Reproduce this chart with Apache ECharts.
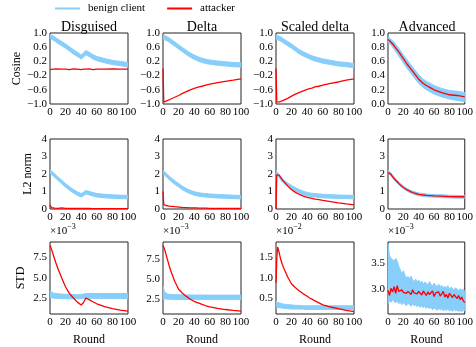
<!DOCTYPE html>
<html>
<head>
<meta charset="utf-8">
<script src="https://cdn.jsdelivr.net/npm/echarts@6/dist/echarts.min.js"></script>
<style>
  html, body { margin: 0; padding: 0; background: #fff; }
  #chart { width: 476px; height: 347px; }
</style>
</head>
<body>
<div id="chart"></div>
<script>
// 通信轮次
const rounds = [0, 1, 2, 4, 6, 8, 10, 15, 20, 25, 30, 35, 40, 43, 46, 50, 55, 60, 70, 80, 90, 100];
const roundsDense = [0, 2, 4, 6, 8, 10, 12, 14, 16, 18, 20, 22, 24, 26, 28, 30, 32, 34, 36, 38, 40, 42, 44, 46, 48, 50,
  52, 54, 56, 58, 60, 62, 64, 66, 68, 70, 72, 74, 76, 78, 80, 82, 84, 86, 88, 90, 92, 94, 96, 98, 100];

const columnTitles = ['Disguised', 'Delta', 'Scaled delta', 'Advanced'];
const rowNames = ['Cosine', 'L2 norm', 'STD'];
const stdExponents = ['−3', '−3', '−2', '−3'];

// Cosine
const cosDisgLo = [0.84, 0.83, 0.82, 0.80, 0.77, 0.74, 0.71, 0.64, 0.57, 0.49, 0.41, 0.34, 0.27, 0.32, 0.39, 0.34, 0.27, 0.22, 0.16, 0.11, 0.08, 0.05];
const cosDisgHi = [0.96, 0.95, 0.94, 0.92, 0.89, 0.86, 0.83, 0.76, 0.69, 0.61, 0.53, 0.46, 0.38, 0.44, 0.51, 0.46, 0.39, 0.34, 0.28, 0.23, 0.20, 0.17];
const cosDisgAtk = [-0.03, -0.02, -0.03, -0.02, -0.03, -0.01, -0.03, -0.02, -0.02, -0.03, -0.01, -0.02, -0.03, -0.02, -0.02, -0.01, -0.03, -0.02, -0.02, -0.01, -0.02, -0.02];

const cosDeltaLo = [0.82, 0.82, 0.81, 0.79, 0.77, 0.74, 0.71, 0.63, 0.55, 0.47, 0.39, 0.32, 0.26, 0.23, 0.20, 0.17, 0.14, 0.12, 0.09, 0.07, 0.05, 0.04];
const cosDeltaHi = [0.94, 0.94, 0.93, 0.91, 0.89, 0.86, 0.83, 0.75, 0.67, 0.59, 0.51, 0.44, 0.38, 0.35, 0.32, 0.29, 0.26, 0.24, 0.21, 0.19, 0.17, 0.16];
const cosDeltaAtk = [0.0, -0.95, -0.94, -0.92, -0.90, -0.88, -0.86, -0.81, -0.76, -0.70, -0.65, -0.60, -0.56, -0.54, -0.52, -0.50, -0.47, -0.44, -0.40, -0.36, -0.33, -0.29];

const cosScaledLo = [0.83, 0.82, 0.81, 0.79, 0.77, 0.74, 0.71, 0.64, 0.57, 0.49, 0.41, 0.35, 0.30, 0.27, 0.24, 0.21, 0.18, 0.15, 0.11, 0.07, 0.05, 0.02];
const cosScaledHi = [0.95, 0.94, 0.93, 0.91, 0.89, 0.86, 0.83, 0.76, 0.69, 0.61, 0.53, 0.47, 0.42, 0.39, 0.36, 0.33, 0.30, 0.27, 0.23, 0.19, 0.17, 0.14];
const cosScaledAtk = [0.0, -0.95, -0.95, -0.94, -0.93, -0.91, -0.89, -0.84, -0.78, -0.72, -0.67, -0.63, -0.59, -0.57, -0.55, -0.52, -0.50, -0.47, -0.42, -0.38, -0.33, -0.29];

const cosAdvLo = [0.86, 0.86, 0.85, 0.83, 0.80, 0.77, 0.74, 0.66, 0.58, 0.50, 0.43, 0.36, 0.29, 0.26, 0.23, 0.20, 0.17, 0.14, 0.10, 0.07, 0.05, 0.03];
const cosAdvHi = [0.95, 0.94, 0.93, 0.91, 0.89, 0.87, 0.84, 0.77, 0.69, 0.62, 0.55, 0.48, 0.41, 0.38, 0.35, 0.32, 0.29, 0.26, 0.22, 0.19, 0.18, 0.16];
const cosAdvAtk = [0.91, 0.90, 0.89, 0.87, 0.85, 0.82, 0.79, 0.72, 0.64, 0.56, 0.49, 0.42, 0.35, 0.32, 0.29, 0.26, 0.23, 0.20, 0.16, 0.13, 0.12, 0.10];

// L2 norm
const l2DisgLo = [2.05, 2.01, 1.97, 1.89, 1.81, 1.73, 1.65, 1.45, 1.25, 1.07, 0.92, 0.78, 0.68, 0.76, 0.86, 0.81, 0.74, 0.69, 0.64, 0.61, 0.59, 0.58];
const l2DisgHi = [2.25, 2.21, 2.17, 2.09, 2.01, 1.93, 1.85, 1.65, 1.45, 1.27, 1.12, 0.98, 0.88, 0.96, 1.06, 1.01, 0.94, 0.89, 0.84, 0.81, 0.79, 0.78];
const l2DisgAtk = [0.22, 0.12, 0.08, 0.06, 0.05, 0.05, 0.04, 0.07, 0.04, 0.03, 0.03, 0.03, 0.03, 0.03, 0.03, 0.03, 0.02, 0.02, 0.02, 0.02, 0.02, 0.02];

const l2DeltaLo = [2.02, 1.98, 1.93, 1.85, 1.76, 1.68, 1.60, 1.42, 1.26, 1.10, 0.97, 0.87, 0.79, 0.76, 0.73, 0.70, 0.68, 0.66, 0.63, 0.61, 0.59, 0.58];
const l2DeltaHi = [2.22, 2.18, 2.13, 2.05, 1.96, 1.88, 1.80, 1.62, 1.46, 1.30, 1.17, 1.07, 0.99, 0.96, 0.93, 0.90, 0.88, 0.86, 0.83, 0.81, 0.79, 0.78];
const l2DeltaAtk = [1.0, 0.25, 0.22, 0.20, 0.18, 0.17, 0.16, 0.13, 0.11, 0.09, 0.08, 0.07, 0.06, 0.06, 0.05, 0.05, 0.05, 0.04, 0.04, 0.04, 0.03, 0.03];

const l2ScaledLo = [2.02, 1.97, 1.90, 1.78, 1.66, 1.55, 1.46, 1.28, 1.15, 1.02, 0.91, 0.82, 0.75, 0.72, 0.70, 0.68, 0.66, 0.64, 0.62, 0.60, 0.59, 0.58];
const l2ScaledHi = [2.22, 2.17, 2.10, 1.98, 1.86, 1.75, 1.66, 1.48, 1.35, 1.22, 1.11, 1.02, 0.95, 0.92, 0.90, 0.88, 0.86, 0.84, 0.82, 0.80, 0.79, 0.78];
const l2ScaledAtk = [0.0, 1.95, 2.05, 1.93, 1.80, 1.68, 1.57, 1.32, 1.10, 0.95, 0.83, 0.74, 0.67, 0.64, 0.61, 0.57, 0.53, 0.49, 0.42, 0.35, 0.29, 0.24];

const l2AdvLo = [2.07, 2.04, 1.99, 1.89, 1.78, 1.67, 1.57, 1.35, 1.16, 1.01, 0.90, 0.82, 0.76, 0.74, 0.72, 0.70, 0.68, 0.67, 0.65, 0.63, 0.62, 0.61];
const l2AdvHi = [2.23, 2.20, 2.15, 2.05, 1.94, 1.83, 1.73, 1.51, 1.32, 1.17, 1.06, 0.98, 0.92, 0.90, 0.88, 0.86, 0.84, 0.83, 0.81, 0.79, 0.78, 0.77];
const l2AdvAtk = [2.08, 2.12, 2.10, 1.98, 1.84, 1.74, 1.64, 1.42, 1.23, 1.09, 0.98, 0.90, 0.84, 0.82, 0.80, 0.78, 0.77, 0.75, 0.73, 0.71, 0.70, 0.70];

// STD（已按 ×10^k 缩放）
const stdDisgLo = [2.65, 2.60, 2.58, 2.55, 2.52, 2.50, 2.50, 2.48, 2.47, 2.46, 2.46, 2.46, 2.46, 2.50, 2.52, 2.52, 2.51, 2.51, 2.50, 2.50, 2.50, 2.50];
const stdDisgHi = [3.45, 3.35, 3.28, 3.18, 3.12, 3.10, 3.08, 3.04, 3.00, 2.98, 2.97, 2.96, 2.96, 3.05, 3.12, 3.12, 3.10, 3.10, 3.10, 3.10, 3.10, 3.10];
const stdDisgAtk = [9.0, 8.8, 8.5, 7.9, 7.3, 6.7, 6.2, 5.0, 3.9, 3.1, 2.55, 2.05, 1.7, 2.0, 2.55, 2.35, 2.1, 1.85, 1.5, 1.25, 1.08, 0.95];

const stdDeltaLo = [2.40, 2.45, 2.48, 2.48, 2.46, 2.45, 2.44, 2.42, 2.42, 2.41, 2.41, 2.40, 2.40, 2.40, 2.40, 2.40, 2.40, 2.40, 2.40, 2.40, 2.40, 2.40];
const stdDeltaHi = [4.10, 3.70, 3.40, 3.20, 3.10, 3.06, 3.04, 3.02, 3.00, 3.00, 2.98, 2.98, 2.97, 2.97, 2.97, 2.97, 2.96, 2.96, 2.96, 2.96, 2.96, 2.96];
const stdDeltaAtk = [9.2, 9.0, 8.7, 8.0, 7.3, 6.6, 6.0, 4.7, 3.7, 3.2, 2.8, 2.45, 2.17, 2.05, 1.95, 1.8, 1.63, 1.5, 1.3, 1.16, 1.05, 0.95];

const stdScaledLo = [0.30, 0.29, 0.28, 0.27, 0.27, 0.26, 0.26, 0.25, 0.24, 0.24, 0.24, 0.24, 0.23, 0.23, 0.23, 0.23, 0.23, 0.23, 0.23, 0.23, 0.23, 0.23];
const stdScaledHi = [0.43, 0.41, 0.40, 0.39, 0.38, 0.37, 0.36, 0.35, 0.34, 0.33, 0.33, 0.32, 0.32, 0.32, 0.32, 0.32, 0.32, 0.32, 0.32, 0.32, 0.32, 0.32];
const stdScaledAtk = [0.88, 1.45, 1.75, 1.62, 1.45, 1.33, 1.23, 1.02, 0.85, 0.76, 0.68, 0.61, 0.55, 0.51, 0.48, 0.44, 0.39, 0.34, 0.29, 0.25, 0.21, 0.18];

const stdAdvLo = [2.72, 2.78, 2.75, 2.80, 2.76, 2.74, 2.78, 2.72, 2.75, 2.70, 2.74, 2.71, 2.68, 2.73, 2.70, 2.67, 2.72, 2.68, 2.70, 2.66,
  2.69, 2.65, 2.68, 2.64, 2.67, 2.63, 2.66, 2.62, 2.65, 2.60, 2.64, 2.62, 2.59, 2.63, 2.60, 2.62, 2.58, 2.61, 2.59, 2.62,
  2.58, 2.60, 2.57, 2.61, 2.58, 2.60, 2.57, 2.59, 2.56, 2.60, 2.58];
const stdAdvHi = [3.88, 3.65, 3.60, 3.58, 3.55, 3.60, 3.55, 3.45, 3.38, 3.30, 3.36, 3.28, 3.22, 3.25, 3.20, 3.26, 3.18, 3.15, 3.20, 3.14,
  3.18, 3.12, 3.16, 3.10, 3.14, 3.12, 3.08, 3.15, 3.10, 3.06, 3.12, 3.08, 3.05, 3.10, 3.04, 3.08, 3.02, 3.06, 3.03, 3.07,
  3.00, 3.04, 3.02, 2.98, 3.03, 3.00, 2.97, 3.01, 2.98, 3.00, 2.96];
const stdAdvAtk = [2.98, 2.88, 3.02, 2.95, 3.05, 2.92, 3.07, 2.96, 2.93, 2.99, 2.94, 2.97, 2.92, 2.96, 2.95, 2.90, 2.99, 2.93, 2.95, 2.91,
  2.96, 2.94, 2.89, 2.97, 2.92, 2.88, 2.95, 2.90, 2.93, 2.97, 2.86, 2.93, 2.90, 2.95, 2.87, 2.91, 2.96, 2.85, 2.90, 2.83,
  2.92, 2.88, 2.84, 2.90, 2.86, 2.82, 2.88, 2.80, 2.85, 2.78, 2.74];

const BLUE = '#87CEFA';
const RED = '#ff0000';
const FONT = 'Liberation Serif';

// 布局（像素）
const colLeft = [50, 163, 276, 388];
const colWidth = 78;
const rowTop = [33, 139, 242];
const rowHeight = [71, 70, 72];

// 每个子图：[行, 列, x, 下界, 上界, 攻击者, y轴设置]
const panels = [
  [0, 0, rounds, cosDisgLo, cosDisgHi, cosDisgAtk, { min: -1, max: 1, interval: 0.4 }],
  [0, 1, rounds, cosDeltaLo, cosDeltaHi, cosDeltaAtk, { min: -1, max: 1, interval: 0.4 }],
  [0, 2, rounds, cosScaledLo, cosScaledHi, cosScaledAtk, { min: -1, max: 1, interval: 0.4 }],
  [0, 3, rounds, cosAdvLo, cosAdvHi, cosAdvAtk, { min: 0, max: 1, interval: 0.2 }],
  [1, 0, rounds, l2DisgLo, l2DisgHi, l2DisgAtk, { min: 0, max: 4, interval: 1, dec: 0 }],
  [1, 1, rounds, l2DeltaLo, l2DeltaHi, l2DeltaAtk, { min: 0, max: 4, interval: 1, dec: 0 }],
  [1, 2, rounds, l2ScaledLo, l2ScaledHi, l2ScaledAtk, { min: 0, max: 4, interval: 1, dec: 0 }],
  [1, 3, rounds, l2AdvLo, l2AdvHi, l2AdvAtk, { min: 0, max: 4, interval: 1, dec: 0 }],
  [2, 0, rounds, stdDisgLo, stdDisgHi, stdDisgAtk, { min: 0.6, max: 9.4, ticks: [2.5, 5.0, 7.5] }],
  [2, 1, rounds, stdDeltaLo, stdDeltaHi, stdDeltaAtk, { min: 0.6, max: 9.6, ticks: [2.5, 5.0, 7.5] }],
  [2, 2, rounds, stdScaledLo, stdScaledHi, stdScaledAtk, { min: 0.12, max: 1.87, ticks: [0.5, 1.0, 1.5] }],
  [2, 3, roundsDense, stdAdvLo, stdAdvHi, stdAdvAtk, { min: 2.52, max: 3.92, ticks: [3.0, 3.5] }]
];

function fmt(dec) {
  return function (v) {
    const s = Math.abs(v).toFixed(dec);
    return v < -1e-9 ? '−' + s : s;
  };
}

const grids = [], xAxes = [], yAxes = [], series = [];
panels.forEach(function (p, gi) {
  const row = p[0], col = p[1], xs = p[2], lo = p[3], hi = p[4], atk = p[5], ya = p[6];
  grids.push({
    left: colLeft[col], top: rowTop[row], width: colWidth, height: rowHeight[row],
    show: true, borderColor: '#222', borderWidth: 1, backgroundColor: 'transparent'
  });
  xAxes.push({
    type: 'value', gridIndex: gi, min: 0, max: 100, interval: 20,
    axisLine: { show: false }, axisTick: { show: false }, splitLine: { show: false },
    axisLabel: { fontFamily: FONT, fontSize: 11, color: '#000', margin: 3, showMinLabel: true, showMaxLabel: true },
    name: row === 2 ? 'Round' : '', nameLocation: 'middle', nameGap: 20,
    nameTextStyle: { fontFamily: FONT, fontSize: 12, color: '#000' }
  });
  const y = {
    type: 'value', gridIndex: gi, min: ya.min, max: ya.max,
    axisLine: { show: false }, axisTick: { show: false }, splitLine: { show: false },
    axisLabel: { fontFamily: FONT, fontSize: 11, color: '#000', margin: 3, formatter: fmt(ya.dec === 0 ? 0 : 1) },
    name: col === 0 ? rowNames[row] : '', nameLocation: 'middle', nameRotate: 90,
    nameGap: row === 1 ? 16 : 23,
    nameTextStyle: { fontFamily: FONT, fontSize: 12, color: '#000' }
  };
  if (ya.ticks) {
    y.axisLabel.customValues = ya.ticks;
  } else {
    y.interval = ya.interval;
  }
  yAxes.push(y);

  series.push({
    type: 'custom', name: 'benign client', xAxisIndex: gi, yAxisIndex: gi,
    coordinateSystem: 'cartesian2d', clip: true, silent: true,
    itemStyle: { color: BLUE },
    data: [[xs[0], lo[0]]],
    renderItem: function (params, api) {
      const pts = [];
      for (let i = 0; i < xs.length; i++) pts.push(api.coord([xs[i], hi[i]]));
      for (let i = xs.length - 1; i >= 0; i--) pts.push(api.coord([xs[i], lo[i]]));
      return { type: 'polygon', shape: { points: pts }, style: { fill: BLUE, stroke: BLUE, lineWidth: 1 } };
    }
  });
  series.push({
    type: 'line', name: 'attacker', xAxisIndex: gi, yAxisIndex: gi,
    data: xs.map(function (x, i) { return [x, atk[i]]; }),
    symbol: 'none', clip: true, silent: true, z: 3,
    itemStyle: { color: RED },
    lineStyle: { color: RED, width: 1.3 }
  });
});

// 列标题和 ×10^k 标注
const texts = [];
columnTitles.forEach(function (t, i) {
  texts.push({
    type: 'text', x: colLeft[i] + colWidth / 2, y: 27, silent: true,
    style: { text: t, font: '14px "Liberation Serif"', fill: '#000', align: 'center', verticalAlign: 'middle' }
  });
});
stdExponents.forEach(function (e, i) {
  texts.push({
    type: 'text', x: colLeft[i], y: 239, silent: true,
    style: {
      text: '{a|×10}{b|' + e + '}', align: 'left', verticalAlign: 'bottom',
      rich: {
        a: { font: '11px "Liberation Serif"', fill: '#000' },
        b: { font: '8px "Liberation Serif"', fill: '#000', padding: [0, 0, 8, 0] }
      }
    }
  });
});

const chart = echarts.init(document.getElementById('chart'));
chart.setOption({
  animation: false,
  backgroundColor: '#fff',
  legend: {
    left: 50, top: -2, itemWidth: 25, itemHeight: 2, itemGap: 22, icon: 'rect',
    selectedMode: false,
    data: ['benign client', 'attacker'],
    textStyle: { fontFamily: FONT, fontSize: 11, color: '#000', padding: [0, 0, 0, 3] }
  },
  grid: grids,
  xAxis: xAxes,
  yAxis: yAxes,
  series: series,
  graphic: texts
});
</script>
</body>
</html>
